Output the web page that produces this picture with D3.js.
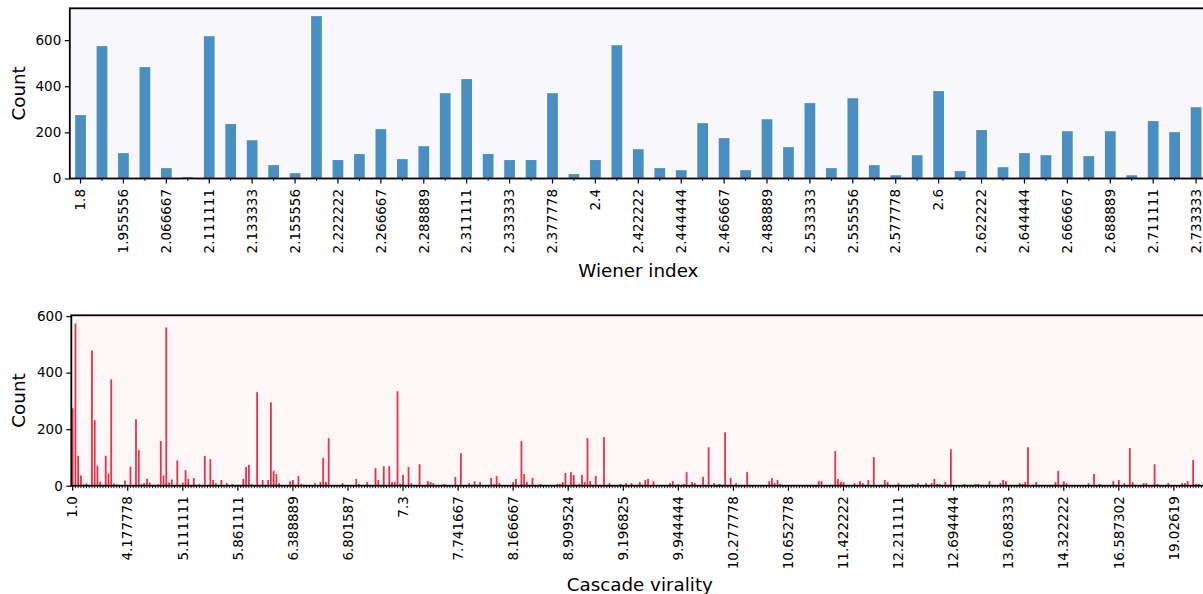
<!DOCTYPE html>
<html><head><meta charset="utf-8">
<script src="https://cdn.jsdelivr.net/npm/d3@7"></script>
<style>
body{margin:0;background:#fff;}
svg text{font-family:"DejaVu Sans",sans-serif;fill:#000;}
</style>
</head><body>
<svg id="chart" width="1203" height="594"></svg>
<script>
// ---------- DATA ----------
const wienerTickLabels = ["1.8","1.955556","2.066667","2.111111","2.133333","2.155556","2.222222","2.266667","2.288889","2.311111","2.333333","2.377778","2.4","2.422222","2.444444","2.466667","2.488889","2.533333","2.555556","2.577778","2.6","2.622222","2.644444","2.666667","2.688889","2.711111","2.733333"];
const wienerCounts = [275,574,110,483,45,6,617,236,166,58,23,704,80,106,214,84,140,370,431,106,80,80,370,19,80,578,127,45,36,240,175,36,257,136,327,45,348,58,14,101,379,32,210,49,110,101,205,97,205,14,249,201,309];

const viralityTickLabels = ["1.0","4.177778","5.111111","5.861111","6.388889","6.801587","7.3","7.741667","8.166667","8.909524","9.196825","9.944444","10.277778","10.652778","11.422222","12.211111","12.694444","13.608333","14.322222","16.587302","19.02619"];
const viralityCounts = [
274,574,106,36,5,8,2,479,232,71,14,2,106,43,376,8,5,2,2,18,
2,67,2,235,127,5,9,25,11,2,2,5,158,36,560,11,22,2,89,2,
11,55,24,2,27,2,6,2,105,2,94,20,9,2,20,2,9,2,6,2,
2,2,24,66,74,6,2,331,2,20,2,20,295,52,41,9,2,2,2,16,
20,2,34,6,2,2,2,2,9,2,13,98,13,168,2,2,2,2,9,2,
2,2,2,24,6,2,2,13,2,2,62,20,2,69,2,69,13,13,334,6,
38,2,66,9,2,2,76,2,2,16,13,9,2,2,2,6,2,2,2,31,
2,115,2,2,9,2,16,2,13,2,2,2,27,6,34,9,2,2,2,2,
13,24,2,158,41,13,2,27,2,2,6,2,2,2,2,2,6,6,13,45,
2,48,38,2,6,38,13,168,16,2,34,2,2,172,2,9,2,2,2,6,
2,9,2,9,2,2,13,2,20,24,2,16,2,2,2,2,2,9,16,2,
6,2,6,48,2,13,9,2,2,31,2,136,2,9,2,6,2,189,2,27,
2,9,2,2,2,48,2,2,2,2,2,2,2,16,27,9,20,6,2,2,
2,2,2,2,2,2,2,2,2,2,2,16,16,2,2,2,2,122,24,13,
13,2,2,2,9,2,16,9,2,20,2,101,2,2,2,20,13,2,2,2,
9,2,2,2,2,6,2,9,2,2,9,2,9,24,6,6,2,13,2,129,
2,2,2,2,6,2,2,2,6,6,2,2,2,16,2,2,2,9,20,16,
2,2,2,2,9,6,13,136,2,2,13,2,2,2,2,2,2,13,52,2,
16,9,2,2,2,2,2,2,2,9,2,41,2,6,2,2,2,2,16,2,
20,2,9,2,133,13,2,2,2,9,9,2,2,76,6,2,2,2,9,2,
2,2,2,9,9,16,2,91,6,6,2,2,2];
const yTicks = [0,200,400,600];

// ---------- DRAW ----------
const svg = d3.select("#chart");
const tickFont = 13.5, labelFont = 18.3;

function panel(cfg){
  const {counts, tickLabels, every, left, right, top, bottom, ymax, bg, color, xlabel, xlabelY, minBarW} = cfg;
  const n = counts.length;
  const x = d3.scaleBand().domain(d3.range(n)).range([left, right]).paddingInner(0.5).paddingOuter(0.25);
  const y = d3.scaleLinear().domain([0, ymax]).range([bottom, top]);
  const bw = Math.max(x.bandwidth(), minBarW);
  const g = svg.append("g");
  g.append("rect").attr("x", left).attr("y", top).attr("width", right-left).attr("height", bottom-top).attr("fill", bg);
  g.selectAll("rect.bar").data(counts).join("rect").attr("class","bar")
    .attr("x", (d,i)=>x(i) + x.bandwidth()/2 - bw/2).attr("width", bw)
    .attr("y", d=>y(d)).attr("height", d=>bottom-y(d)).attr("fill", color);
  // minor ticks
  const minor = d3.axisBottom(x).tickValues(d3.range(n).filter(i=>i%every!==0)).tickSize(2.5).tickFormat("");
  const gm = g.append("g").attr("transform",`translate(0,${bottom})`).call(minor);
  gm.select(".domain").remove();
  gm.selectAll("line").attr("stroke","#000").attr("stroke-width",0.9);
  // major ticks
  const major = d3.axisBottom(x).tickValues(d3.range(0,n,every)).tickSize(5)
    .tickFormat(i=>tickLabels[i/every]);
  const gM = g.append("g").attr("transform",`translate(0,${bottom})`).call(major);
  gM.select(".domain").remove();
  gM.selectAll("line").attr("stroke","#000").attr("stroke-width",1.2);
  gM.selectAll("text").attr("transform","rotate(-90)").attr("x",-10.5).attr("y",0).attr("dy","0.35em")
    .attr("text-anchor","end").style("font-size",tickFont+"px").style("font-family","DejaVu Sans");
  // y axis
  const ya = d3.axisLeft(y).tickValues(yTicks).tickSize(5).tickPadding(3.5).tickFormat(d3.format("d"));
  const gy = g.append("g").attr("transform",`translate(${left},0)`).call(ya);
  gy.select(".domain").remove();
  gy.selectAll("line").attr("stroke","#000").attr("stroke-width",1.2);
  gy.selectAll("text").style("font-size",tickFont+"px").style("font-family","DejaVu Sans");
  // spines
  g.append("rect").attr("x", left).attr("y", top).attr("width", right-left).attr("height", bottom-top)
    .attr("fill","none").attr("stroke","#000").attr("stroke-width",1.8);
  // labels
  g.append("text").attr("x",(left+right)/2).attr("y",xlabelY).attr("text-anchor","middle")
    .style("font-size",labelFont+"px").text(xlabel);
  g.append("text").attr("transform",`translate(25,${(top+bottom)/2}) rotate(-90)`).attr("text-anchor","middle")
    .style("font-size",labelFont+"px").text("Count");
}

panel({counts: wienerCounts, tickLabels: wienerTickLabels, every: 2,
  left: 69.8, right: 1206.8, top: 8.3, bottom: 178.5, ymax: 738,
  bg: "#f8f8fc", color: "#4a8fc1", xlabel: "Wiener index", xlabelY: 276.5, minBarW: 0});

panel({counts: viralityCounts, tickLabels: viralityTickLabels, every: 20,
  left: 71.3, right: 71.3 + 2.753*viralityCounts.length, top: 315.3, bottom: 485.7, ymax: 603,
  bg: "#fff7f7", color: "#e8314a", xlabel: "Cascade virality", xlabelY: 591, minBarW: 1.8});
</script>
</body></html>
